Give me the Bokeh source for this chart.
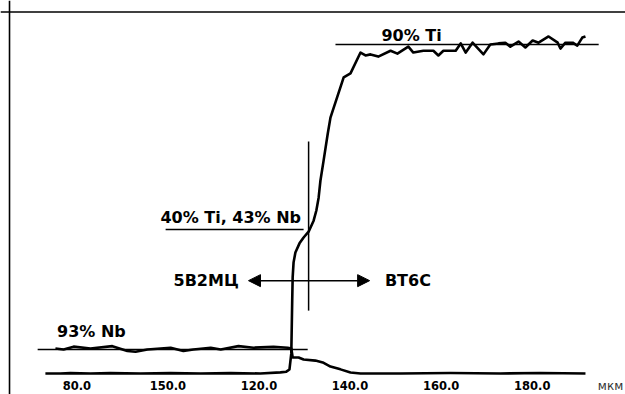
from bokeh.plotting import figure
from bokeh.models import Range1d, Span, Arrow, NormalHead, ColumnDataSource
from bokeh.core.properties import value
from bokeh.embed import file_html
from bokeh.resources import INLINE

# Ti profile (x in micrometres, Ti in %)
ti_x = [73.1, 76.4, 78.6, 83.0, 87.4, 94.0, 100.6, 107.2, 113.8, 120.3, 124.7, 126.0, 126.7,
        127.1, 127.3, 127.4, 127.6, 128.0, 128.9, 129.8, 130.9, 132.0, 132.6, 133.1, 133.5,
        134.2, 135.1, 135.7, 138.6, 140.1, 142.3, 143.4, 144.5, 146.2, 148.9, 150.4, 152.8,
        153.9, 156.1, 158.3, 159.4, 160.5, 163.2, 164.3, 165.4, 166.9, 169.3, 170.8, 172.6,
        174.1, 175.2, 177.0, 178.5, 180.1, 181.4, 183.6, 185.6, 186.2, 187.3, 188.9, 189.9,
        191.0, 191.7]
ti_val = [0.0, 0.0, 0.1, 0.0, 0.1, 0.0, 0.1, 0.0, 0.1, 0.0, 0.3, 0.5, 1.1,
          5.5, 20.0, 26.3, 30.4, 33.1, 35.6, 37.2, 38.8, 41.8, 44.6, 48.1, 52.8,
          58.3, 65.6, 70.0, 81.0, 82.1, 87.8, 87.0, 87.3, 86.7, 88.3, 87.5, 89.4,
          87.8, 88.3, 88.3, 87.0, 88.3, 88.3, 90.3, 87.8, 90.5, 87.3, 90.0, 90.3,
          90.5, 89.4, 90.8, 89.2, 91.1, 90.5, 92.2, 90.5, 88.9, 90.5, 90.5, 89.7,
          91.9, 92.2]

# Nb profile (x in micrometres, Nb in % on its own scale)
nb_x = [75.3, 77.1, 79.3, 83.0, 87.8, 91.1, 92.9, 95.5, 98.4, 100.6, 103.4, 105.6, 109.4,
        111.6, 115.5, 118.8, 123.2, 126.3, 127.1, 127.4, 128.7, 129.8, 132.4, 134.0, 135.7,
        137.9, 140.1, 142.3, 151.1, 162.1, 173.0, 181.8, 191.7]
nb_val = [97, 93, 104, 97, 106, 87, 84, 93, 97, 100, 87, 93, 100,
          93, 106, 100, 103, 100, 97, 62, 62, 54, 50, 43, 27,
          16, 4, 0, 0, 2, 0, 2, 0]

# reference levels / markers
ti_level_x = [136.8, 194.6]
ti_level = 90
nb_level_x = [71.4, 130.7]
nb_level = 93
mid_level_x = [99.5, 129.8]
mid_level = 39.4
boundary_x = 130.9
boundary_y = [17.2, 63.5]
arrow_x = [117.7, 144.3]
arrow_y = 25.4

tick_values = [80, 100, 120, 140, 160, 180]
tick_labels = ["80.0", "150.0", "120.0", "140.0", "160.0", "180.0"]
unit_label = "мкм"

labels_text = ["90% Ti", "93% Nb", "40% Ti, 43% Nb", "5В2МЦ", "ВТ6С"]
labels_x = [153.5, 83.2, 113.8, 108.4, 152.7]
labels_y = [92.5, 11.5, 42.7, 25.4, 25.4]

X0, X1 = 63.24, 200.49
Y0, Y1 = -5.745, 102.04

p = figure(width=625, height=394, output_backend="svg", toolbar_location=None,
           x_range=Range1d(X0, X1), y_range=Range1d(Y0, Y1),
           x_axis_location=None, y_axis_location=None, min_border=0)
p.extra_y_ranges = {"nb": Range1d(-81.38, 1445.4)}
p.grid.visible = False
p.outline_line_color = None
p.background_fill_color = "white"
p.border_fill_color = "white"

# frame lines (left and top)
p.add_layout(Span(location=65.22, dimension="height", line_color="black", line_width=1.6))
p.add_layout(Span(location=98.9, dimension="width", line_color="black", line_width=1.6))

# reference lines
p.line(ti_level_x, [ti_level, ti_level], line_color="black", line_width=1.5)
p.line(nb_level_x, [nb_level, nb_level], line_color="black", line_width=1.5, y_range_name="nb")
p.line(mid_level_x, [mid_level, mid_level], line_color="black", line_width=1.5)
p.line([boundary_x, boundary_x], boundary_y, line_color="black", line_width=1.5)

p.add_layout(Arrow(x_start=arrow_x[0], y_start=arrow_y, x_end=arrow_x[1], y_end=arrow_y,
                   line_color="black", line_width=1.5,
                   start=NormalHead(size=12, fill_color="black", line_color="black"),
                   end=NormalHead(size=12, fill_color="black", line_color="black")))

# data curves
p.line(ti_x, ti_val, line_color="black", line_width=2.6, line_join="round")
p.line(nb_x, nb_val, line_color="black", line_width=2.6, line_join="round", y_range_name="nb")

# annotation texts
src = ColumnDataSource(dict(x=labels_x, y=labels_y, t=labels_text))
p.text(x="x", y="y", text="t", source=src, text_font=value("DejaVu Sans"),
       text_font_style="bold", text_font_size="16px", text_color="black",
       text_align="center", text_baseline="middle")

# tick labels
tsrc = ColumnDataSource(dict(x=tick_values, y=[-3.3] * len(tick_values), t=tick_labels))
p.text(x="x", y="y", text="t", source=tsrc, text_font=value("DejaVu Sans"),
       text_font_style="bold", text_font_size="11.5px", text_color="black",
       text_align="center", text_baseline="middle")
p.text(x=[197.2], y=[-3.3], text=[unit_label], text_font=value("DejaVu Sans"),
       text_font_size="12px", text_color="#333333",
       text_align="center", text_baseline="middle")

open("out.html", "w").write(file_html(p, INLINE))
